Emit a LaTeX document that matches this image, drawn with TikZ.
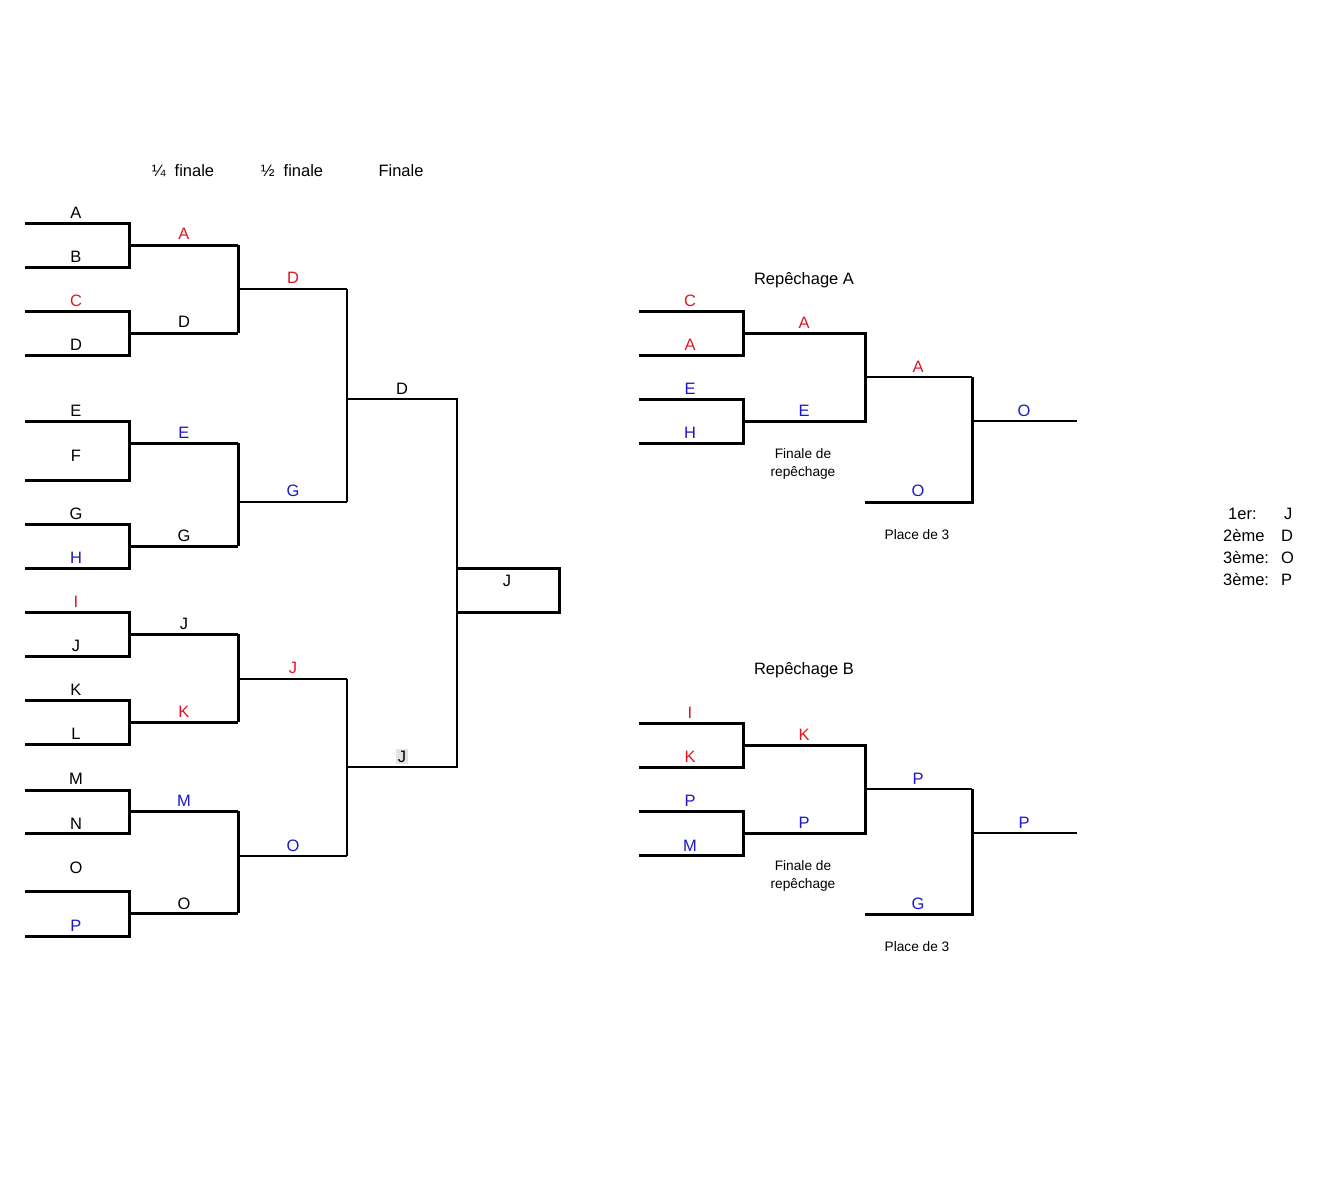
\documentclass[tikz,border=0pt]{standalone}
\usepackage{fontspec}
\setmainfont{Liberation Sans}
\definecolor{tred}{RGB}{225,20,35}
\definecolor{tblue}{RGB}{25,25,200}
\begin{document}
\begin{tikzpicture}[x=1pt,y=-1pt,line join=miter,
 thk/.style={line width=3pt},
 thn/.style={line width=2pt},
 lbl/.style={anchor=base,inner sep=0pt,font=\fontsize{16.5}{18}\selectfont},
 small/.style={anchor=base,inner sep=0pt,font=\fontsize{13.7}{16}\selectfont}]
\useasboundingbox (0,0) rectangle (1331,1200);

% ---------- headers
\node[lbl] (h1) at (183,176) {¼\ \ finale};
\node[lbl] (h2) at (292,176) {½\ \ finale};
\node[lbl] (h3) at (401,176) {Finale};

% ---------- main bracket, round 1
\foreach \a/\b in {223/267,311/355,421/480,524/568,612/656,700/744,790/833,891/936}
  \draw[thk] (25,\a) -- (129,\a) -- (129,\b) -- (25,\b);
% round 2
\foreach \y in {245,333,443,546,634,722,811,913}
  \draw[thk] (129,\y) -- (238,\y);
\foreach \a/\b in {245/333,443/546,634/722,811/913}
  \draw[thk] (238,\a) -- (238,\b);
% round 3
\foreach \y in {289,502,679,856}
  \draw[thn] (238,\y) -- (347,\y);
\foreach \a/\b in {289/502,679/856}
  \draw[thn] (347,\a) -- (347,\b);
% round 4
\draw[thn] (347,399) -- (457,399) -- (457,767) -- (347,767);
% final box
\draw[thk] (457,568) -- (559,568) -- (559,612) -- (457,612);

% labels round 1
\node[lbl] (a1) at (76,218) {A};
\node[lbl] (b1) at (76,262) {B};
\node[lbl,text=tred] (c1) at (76,306) {C};
\node[lbl] (d1) at (76,350) {D};
\node[lbl] (e1) at (76,416) {E};
\node[lbl] (f1) at (76,461) {F};
\node[lbl] (g1) at (76,519) {G};
\node[lbl,text=tblue] (h1l) at (76,563) {H};
\node[lbl,text=tred] (i1) at (76,607) {I};
\node[lbl] (j1) at (76,651) {J};
\node[lbl] (k1) at (76,695) {K};
\node[lbl] (l1) at (76,739) {L};
\node[lbl] (m1) at (76,784) {M};
\node[lbl] (n1) at (76,829) {N};
\node[lbl] (o1) at (76,873) {O};
\node[lbl,text=tblue] (p1) at (76,931) {P};
% labels round 2
\node[lbl,text=tred] (a2) at (184,239) {A};
\node[lbl] (d2) at (184,327) {D};
\node[lbl,text=tblue] (e2) at (184,438) {E};
\node[lbl] (g2) at (184,541) {G};
\node[lbl] (j2) at (184,629) {J};
\node[lbl,text=tred] (k2) at (184,717) {K};
\node[lbl,text=tblue] (m2) at (184,806) {M};
\node[lbl] (o2) at (184,909) {O};
% labels round 3
\node[lbl,text=tred] (d3) at (293,283) {D};
\node[lbl,text=tblue] (g3) at (293,496) {G};
\node[lbl,text=tred] (j3) at (293,673) {J};
\node[lbl,text=tblue] (o3) at (293,851) {O};
% labels round 4
\node[lbl] (d4) at (402,394) {D};
\node[lbl,fill=gray!22,inner sep=1.5pt] (j4) at (402,762) {J};
\node[lbl] (j5) at (507,586) {J};

% ---------- Repechage A
\node[lbl] (ra) at (804,284) {Repêchage A};
\foreach \a/\b in {311/355,399/443}
  \draw[thk] (639,\a) -- (743,\a) -- (743,\b) -- (639,\b);
\draw[thk] (743,333) -- (865,333) -- (865,421) -- (743,421);
\draw[thn] (865,377) -- (972,377);
\draw[thk] (865,502) -- (972,502) -- (972,377);
\draw[thn] (972,421) -- (1077,421);
\node[lbl,text=tred] (rac) at (690,306) {C};
\node[lbl,text=tred] (raa) at (690,350) {A};
\node[lbl,text=tblue] (rae) at (690,394) {E};
\node[lbl,text=tblue] (rah) at (690,438) {H};
\node[lbl,text=tred] (raa2) at (804,328) {A};
\node[lbl,text=tblue] (rae2) at (804,416) {E};
\node[lbl,text=tred] (raa3) at (918,372) {A};
\node[lbl,text=tblue] (rao3) at (918,496) {O};
\node[lbl,text=tblue] (rao4) at (1024,416) {O};
\node[small] (rafa) at (803,458) {Finale de};
\node[small] (rafb) at (803,476) {repêchage};
\node[small] (rap) at (917,539) {Place de 3};

% ---------- Repechage B
\node[lbl] (rb) at (804,674) {Repêchage B};
\foreach \a/\b in {723/767,811/855}
  \draw[thk] (639,\a) -- (743,\a) -- (743,\b) -- (639,\b);
\draw[thk] (743,745) -- (865,745) -- (865,833) -- (743,833);
\draw[thn] (865,789) -- (972,789);
\draw[thk] (865,914) -- (972,914) -- (972,789);
\draw[thn] (972,833) -- (1077,833);
\node[lbl,text=tred] (rbi) at (690,718) {I};
\node[lbl,text=tred] (rbk) at (690,762) {K};
\node[lbl,text=tblue] (rbp) at (690,806) {P};
\node[lbl,text=tblue] (rbm) at (690,851) {M};
\node[lbl,text=tred] (rbk2) at (804,740) {K};
\node[lbl,text=tblue] (rbp2) at (804,828) {P};
\node[lbl,text=tblue] (rbp3) at (918,784) {P};
\node[lbl,text=tblue] (rbg3) at (918,909) {G};
\node[lbl,text=tblue] (rbp4) at (1024,828) {P};
\node[small] (rbfa) at (803,870) {Finale de};
\node[small] (rbfb) at (803,888) {repêchage};
\node[small] (rbpl) at (917,951) {Place de 3};

% ---------- standings
\node[lbl,anchor=base west] (s1) at (1228,519) {1er:};
\node[lbl,anchor=base west] (s2) at (1223,541) {2ème};
\node[lbl,anchor=base west] (s3) at (1223,563) {3ème:};
\node[lbl,anchor=base west] (s4) at (1223,585) {3ème:};
\node[lbl,anchor=base west] (w1) at (1284,519) {J};
\node[lbl,anchor=base west] (w2) at (1281,541) {D};
\node[lbl,anchor=base west] (w3) at (1281,563) {O};
\node[lbl,anchor=base west] (w4) at (1281,585) {P};
\end{tikzpicture}
\end{document}
